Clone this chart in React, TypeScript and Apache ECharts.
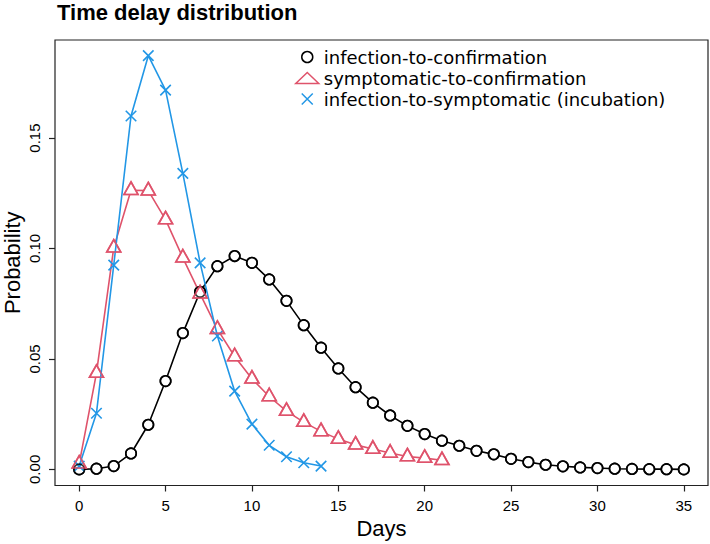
import React, { useEffect, useRef } from "react";
import * as echarts from "echarts";

// ---- data ----
const confDays = [0, 1, 2, 3, 4, 5, 6, 7, 8, 9, 10, 11, 12, 13, 14, 15, 16, 17, 18, 19, 20, 21, 22, 23, 24, 25, 26, 27, 28, 29, 30, 31, 32, 33, 34, 35];
const infectionToConfirmation = [
  0.0, 0.0003, 0.0015, 0.0072, 0.0202, 0.04, 0.0617, 0.0804, 0.092, 0.0966, 0.0935, 0.086, 0.0763, 0.0653, 0.0551, 0.0457,
  0.0372, 0.0302, 0.0244, 0.0197, 0.016, 0.013, 0.0107, 0.0084, 0.0068, 0.0048, 0.0033, 0.0021, 0.0014, 0.0009, 0.0006,
  0.0003, 0.0002, 0.0001, 0.0001, 0.0,
];
const sympDays = [0, 1, 2, 3, 4, 5, 6, 7, 8, 9, 10, 11, 12, 13, 14, 15, 16, 17, 18, 19, 20, 21];
const symptomaticToConfirmation = [
  0.0025, 0.0436, 0.1003, 0.1264, 0.1262, 0.1131, 0.0958, 0.0795, 0.0635, 0.0511, 0.041, 0.033, 0.0264, 0.0214, 0.0172,
  0.0137, 0.0111, 0.0092, 0.0074, 0.0058, 0.0051, 0.0041,
];
const incubDays = [0, 1, 2, 3, 4, 5, 6, 7, 8, 9, 10, 11, 12, 13, 14];
const incubation = [0.0015, 0.0254, 0.0925, 0.16, 0.1873, 0.1717, 0.134, 0.0935, 0.0604, 0.0354, 0.0205, 0.0109, 0.0057, 0.003, 0.0015];

const xTicks = [0, 5, 10, 15, 20, 25, 30, 35];
const yTicks = [0, 0.05, 0.1, 0.15];

const seriesNames = [
  "infection-to-confirmation",
  "symptomatic-to-confirmation",
  "infection-to-symptomatic (incubation)",
];
const titleText = "Time delay distribution";
const xName = "Days";
const yName = "Probability";

// ---- styles ----
const FONT = "'Liberation Sans', Arial, Helvetica, sans-serif";
const LEGEND_FONT = "'DejaVu Sans', 'Liberation Sans', sans-serif";
const BLACK = "#000000";
const RED = "#DF536B";
const BLUE = "#2297E6";
const LW = 1.6;
const X_PATH = "path://M0,0L10,10M10,0L0,10";

function pairs(xs: number[], ys: number[]) {
  return xs.map((x, i) => [x, ys[i]]);
}

function lineSeries(name: string, data: number[][], color: string, symbol: string, size: any, offset: any, z: number) {
  return {
    type: "line",
    name,
    data,
    symbol,
    symbolSize: size,
    symbolOffset: offset,
    symbolKeepAspect: false,
    showAllSymbol: true,
    lineStyle: { color, width: LW },
    itemStyle: { color: "#ffffff", borderColor: color, borderWidth: LW },
    emphasis: { disabled: true },
    silent: true,
    z,
  };
}

function overlaySeries(name: string, data: number[][], color: string, symbol: string, size: any, offset: any, z: number) {
  return {
    type: "scatter",
    name: name + " markers",
    data,
    symbol,
    symbolSize: size,
    symbolOffset: offset,
    symbolKeepAspect: false,
    itemStyle: { color: "rgba(0,0,0,0)", borderColor: color, borderWidth: LW },
    emphasis: { disabled: true },
    silent: true,
    z,
  };
}

export default function App() {
  const ref = useRef<HTMLDivElement>(null);
  useEffect(() => {
    document.body.style.margin = "0";
    const chart = echarts.init(ref.current!, null, { renderer: "svg" });
    const d1 = pairs(confDays, infectionToConfirmation);
    const d2 = pairs(sympDays, symptomaticToConfirmation);
    const d3 = pairs(incubDays, incubation);
    const triSize = [14, 12.5];
    const triOff = [0, -2];
    const option: any = {
      animation: false,
      backgroundColor: "#ffffff",
      textStyle: { fontFamily: FONT },
      title: {
        text: titleText,
        left: 57,
        top: 1,
        padding: 0,
        textStyle: { fontFamily: FONT, fontSize: 22, fontWeight: "bold", color: "#000", lineHeight: 22 },
      },
      legend: {
        orient: "vertical",
        left: 290,
        top: 41.5,
        padding: 5,
        itemWidth: 23,
        itemHeight: 11,
        itemGap: 0,
        selectedMode: false,
        textStyle: { fontFamily: LEGEND_FONT, fontSize: 18, lineHeight: 21, color: "#000" },
        data: [
          { name: seriesNames[0], icon: "circle", itemStyle: { color: "rgba(0,0,0,0)", borderColor: BLACK, borderWidth: 1.5 } },
          { name: seriesNames[1], icon: "triangle", itemStyle: { color: "rgba(0,0,0,0)", borderColor: RED, borderWidth: 1.5 } },
          { name: seriesNames[2], icon: X_PATH, itemStyle: { color: "rgba(0,0,0,0)", borderColor: BLUE, borderWidth: 1.5 } },
        ],
      },
      grid: {
        left: 55,
        top: 40,
        right: 2,
        bottom: 58.5,
        show: true,
        containLabel: false,
        outerBoundsMode: "none",
        borderColor: "#222",
        borderWidth: 1.2,
        backgroundColor: "rgba(0,0,0,0)",
      },
      xAxis: {
        type: "value",
        min: -1.4,
        max: 36.4,
        name: xName,
        nameLocation: "middle",
        nameGap: 32,
        nameMoveOverlap: false,
        nameTextStyle: { fontFamily: FONT, fontSize: 22, color: "#000" },
        axisLine: { show: false, onZero: false },
        splitLine: { show: false },
        axisTick: { show: true, customValues: xTicks, length: 6, lineStyle: { color: "#222", width: 1.2 } },
        axisLabel: { customValues: xTicks, margin: 12, fontSize: 15, color: "#000", fontFamily: FONT },
      },
      yAxis: {
        type: "value",
        min: -0.0073,
        max: 0.1944,
        name: yName,
        nameLocation: "middle",
        nameGap: 32,
        nameMoveOverlap: false,
        nameTextStyle: { fontFamily: FONT, fontSize: 22, lineHeight: 22, color: "#000" },
        axisLine: { show: false, onZero: false },
        splitLine: { show: false },
        axisTick: { show: true, customValues: yTicks, length: 6, lineStyle: { color: "#222", width: 1.2 } },
        axisLabel: {
          customValues: yTicks,
          rotate: 90,
          margin: 13,
          fontSize: 15,
          color: "#000",
          fontFamily: FONT,
          formatter: (v: number) => v.toFixed(2),
        },
      },
      series: [
        lineSeries(seriesNames[0], d1, BLACK, "circle", 10.5, [0, 0], 2),
        lineSeries(seriesNames[1], d2, RED, "triangle", triSize, triOff, 3),
        lineSeries(seriesNames[2], d3, BLUE, X_PATH, 10.5, [0, 0], 4),
        overlaySeries(seriesNames[0], d1, BLACK, "circle", 10.5, [0, 0], 5),
        overlaySeries(seriesNames[1], d2, RED, "triangle", triSize, triOff, 5),
      ],
    };
    chart.setOption(option);
    return () => chart.dispose();
  }, []);
  return <div ref={ref} style={{ width: 710, height: 544 }} />;
}
